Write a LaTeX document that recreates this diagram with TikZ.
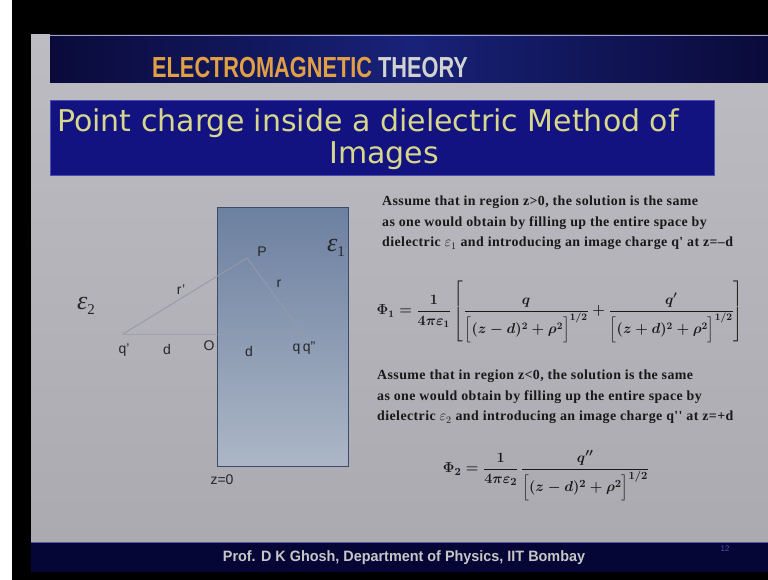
\documentclass[tikz,border=0pt]{standalone}
\usepackage{amsmath}
\usepackage{fontspec}
\setmainfont{Liberation Serif}
\setsansfont{Liberation Sans}
\newfontfamily\hdrfont[FakeStretch=0.75]{Liberation Sans}
\newfontfamily\ttlfont{DejaVu Sans}
\newfontfamily\ftrfont[FakeStretch=0.96]{Liberation Sans}
\newfontfamily\bodyfont[LetterSpace=3]{Liberation Serif}
\usetikzlibrary{positioning}

\definecolor{slidetop}{RGB}{188,188,194}
\definecolor{slidebot}{RGB}{170,170,176}
\definecolor{hdrnavy}{RGB}{10,10,58}
\definecolor{hdrblue}{RGB}{24,34,120}
\definecolor{ttlblue}{RGB}{18,18,128}
\definecolor{ttlyellow}{RGB}{214,214,140}
\definecolor{hdrorange}{RGB}{226,160,70}
\definecolor{ftrnavy}{RGB}{6,6,54}
\definecolor{slabtop}{RGB}{108,128,160}
\definecolor{slabbot}{RGB}{172,182,198}
\definecolor{slabedge}{RGB}{58,76,106}
\definecolor{raygray}{RGB}{150,154,168}

% epsilon with an upright index, as on the slide
\newcommand{\epsidx}[1]{{\itshape ε}\raisebox{-5pt}{\fontsize{15}{16}\selectfont #1}}

\begin{document}
\begin{tikzpicture}[x=1pt, y=-1pt]
    % Styles
    \tikzstyle{lbl} = [font=\sffamily\fontsize{14}{16}\selectfont, text=black!85, inner sep=1pt]
    \tikzstyle{eps} = [font=\fontsize{26}{28}\selectfont, text=black!85, inner sep=1pt]
    \tikzstyle{ray} = [draw=raygray, line width=0.9pt]
    \tikzstyle{body} = [font=\bodyfont\bfseries\fontsize{13.9}{20.5}\selectfont, text=black!90, align=left, inner sep=0pt]
    \tikzstyle{formula} = [font=\fontsize{15}{17}\selectfont, text=black!90, inner sep=0pt]

    % Frame and slide
    \useasboundingbox (0,0) rectangle (768,580);
    \fill[white] (0,0) rectangle (768,580);
    \fill[black] (12,0) rectangle (768,580);
    \shade[top color=slidetop, bottom color=slidebot] (31,35) rectangle (768,542);

    % Header bar
    \shade[left color=hdrnavy, right color=hdrnavy, middle color=hdrblue] (50,35) rectangle (768,83);
    \draw[gray!70, line width=0.8pt] (50,35.4) -- (768,35.4);
    \node (Header) [anchor=base west, inner sep=0pt, font=\hdrfont\bfseries\fontsize{29}{30}\selectfont] at (152,78)
        {\textcolor{hdrorange}{ELECTROMAGNETIC} \textcolor{gray!35}{THEORY}};

    % Title box
    \fill[ttlblue] (50,100) rectangle (714,175);
    \draw[blue!40!gray, line width=0.6pt] (50,100) rectangle (714,175);
    \node (Title1) [inner sep=0pt, text=ttlyellow, font=\ttlfont\fontsize{30}{32}\selectfont] at (368,123) {Point charge inside a dielectric Method of};
    \node (Title2) [inner sep=0pt, text=ttlyellow, font=\ttlfont\fontsize{30}{32}\selectfont] at (384,156) {Images};

    % Dielectric slab
    \node (Slab) [draw=slabedge, line width=1.2pt, top color=slabtop, bottom color=slabbot, minimum width=131pt, minimum height=259pt, anchor=north west, inner sep=0pt] at (217,207) {};

    % Charges and field point
    \coordinate (Qp) at (123,334);
    \coordinate (O) at (217,334);
    \coordinate (Q) at (303,334);
    \coordinate (P) at (247,258);

    \draw[ray] (Qp) -- (P) -- (Q);
    \draw[ray] (Qp) -- (O) -- (Q);

    % Labels
    \node (LabP) [lbl] at (262,252) {P};
    \node (LabR) [lbl] at (279,284) {r};
    \node (LabRp) [lbl] at (181,290) {r'};
    \node (LabQp) [lbl] at (124,350) {q'};
    \node (LabD1) [lbl] at (167,349) {d};
    \node (LabO) [lbl] at (209,346) {O};
    \node (LabD2) [lbl] at (249,351) {d};
    \node (LabQ) [lbl] at (304,348) {q\,q''};
    \node (Eps2) [eps] at (86,306) {\epsidx{2}};
    \node (Eps1) [eps] at (336,248) {\epsidx{1}};
    \node (Zero) [lbl] at (222,480) {z=0};

    % Region z>0
    \node (Text1) [body, anchor=north west] at (382,196)
        {Assume that in region z>0, the solution is the same\\
         as one would obtain by filling up the entire space by\\
         dielectric $\varepsilon_1$ and introducing an image charge q' at z=–d};
    \node (Phi1) [formula, font=\fontsize{14.6}{17}\selectfont] at (560,312)
        {$\boldmath\displaystyle \Phi_1=\frac{1}{4\pi\varepsilon_1}\left[\frac{q}{\Bigl[(z-d)^2+\rho^2\Bigr]^{1/2}}+\frac{q'}{\Bigl[(z+d)^2+\rho^2\Bigr]^{1/2}}\right]$};

    % Region z<0
    \node (Text2) [body, anchor=north west] at (377,370)
        {Assume that in region z<0, the solution is the same\\
         as one would obtain by filling up the entire space by\\
         dielectric $\varepsilon_2$ and introducing an image charge q'' at z=+d};
    \node (Phi2) [formula] at (546,476)
        {$\boldmath\displaystyle \Phi_2=\frac{1}{4\pi\varepsilon_2}\,\frac{q''}{\Bigl[(z-d)^2+\rho^2\Bigr]^{1/2}}$};

    % Footer
    \fill[ftrnavy] (31,542) rectangle (768,572);
    \draw[blue!30!gray, line width=0.8pt] (31,542.4) -- (768,542.4);
    \node (Footer) [inner sep=0pt, text=gray!45, font=\ftrfont\bfseries\fontsize{15}{16}\selectfont] at (404,558) {Prof. D K Ghosh, Department of Physics, IIT Bombay};
    \node (PageNo) [inner sep=0pt, text=blue!40!gray, font=\sffamily\fontsize{8}{9}\selectfont] at (725,549) {12};
\end{tikzpicture}
\end{document}
